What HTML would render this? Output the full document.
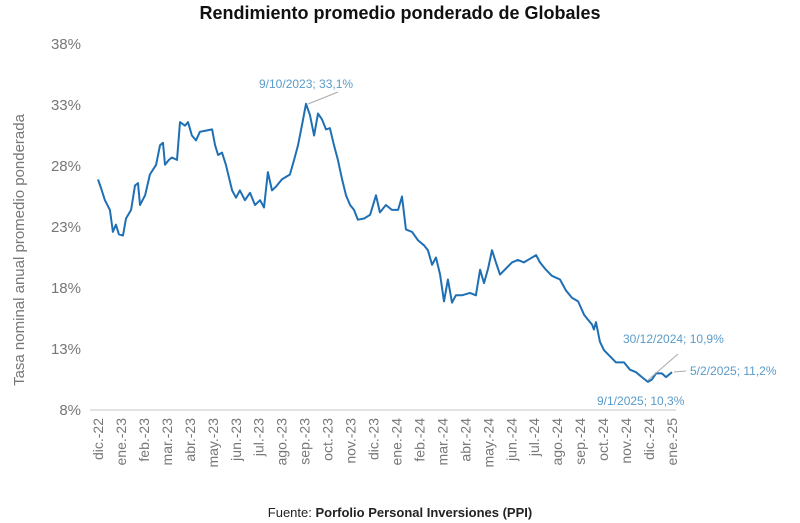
<!DOCTYPE html>
<html><head><meta charset="utf-8"><style>
body{margin:0;background:#fff;font-family:"Liberation Sans",sans-serif;}
svg{display:block}
</style></head><body>
<svg width="800" height="523" viewBox="0 0 800 523" id="chart">
<text x="400" y="19" text-anchor="middle" font-size="18" font-weight="bold" fill="#111">Rendimiento promedio ponderado de Globales</text>
<text transform="translate(24,250) rotate(-90)" text-anchor="middle" font-size="15" fill="#777">Tasa nominal anual promedio ponderada</text>
<line x1="90" y1="410" x2="676" y2="410" stroke="#d9d9d9" stroke-width="1.5"/>
<g id="yt"></g><g id="xt"></g><g id="ln"></g>
<g font-size="12" fill="#5a9bc9">
<line x1="308" y1="104" x2="338" y2="92" stroke="#aaa" stroke-width="1"/>
<text x="259" y="88" fill="#5a9bc9">9/10/2023; 33,1%</text>
<line x1="648" y1="380" x2="678" y2="354" stroke="#aaa" stroke-width="1"/>
<text x="623" y="343" fill="#5a9bc9">30/12/2024; 10,9%</text>
<line x1="674" y1="372" x2="686" y2="371" stroke="#aaa" stroke-width="1"/>
<text x="690" y="375" fill="#5a9bc9">5/2/2025; 11,2%</text>
<text x="597" y="405" fill="#5a9bc9">9/1/2025; 10,3%</text>
</g>
<text x="400" y="517" text-anchor="middle" font-size="13" fill="#222">Fuente: <tspan font-weight="bold">Porfolio Personal Inversiones (PPI)</tspan></text>
</svg>
<script>
const yTicks=[8,13,18,23,28,33,38];
const monthLabels=["dic.-22","ene.-23","feb.-23","mar.-23","abr.-23","may.-23","jun.-23","jul.-23","ago.-23","sep.-23","oct.-23","nov.-23","dic.-23","ene.-24","feb.-24","mar.-24","abr.-24","may.-24","jun.-24","jul.-24","ago.-24","sep.-24","oct.-24","nov.-24","dic.-24","ene.-25"];
const months=[0,0.13,0.30,0.52,0.65,0.78,0.91,1.09,1.22,1.44,1.61,1.74,1.83,2.05,2.26,2.53,2.70,2.83,2.92,3.09,3.22,3.44,3.57,3.79,3.92,4.09,4.27,4.44,4.70,4.97,5.10,5.23,5.40,5.57,5.84,6.01,6.18,6.40,6.62,6.84,7.06,7.23,7.40,7.58,7.75,8.01,8.36,8.54,8.71,8.89,9.06,9.23,9.41,9.58,9.76,9.93,10.10,10.28,10.45,10.63,10.80,10.98,11.15,11.32,11.59,11.85,12.11,12.28,12.54,12.80,13.07,13.24,13.41,13.68,13.94,14.20,14.37,14.55,14.72,14.90,15.07,15.24,15.42,15.59,15.85,16.20,16.46,16.64,16.81,16.99,17.16,17.33,17.51,17.77,18.03,18.29,18.55,18.82,19.08,19.25,19.51,19.77,20.12,20.38,20.64,20.91,21.17,21.34,21.52,21.60,21.69,21.86,22.04,22.30,22.56,22.91,23.17,23.43,23.69,23.95,24.13,24.30,24.56,24.74,25.00];
const rates=[26.9,26.2,25.2,24.4,22.6,23.2,22.4,22.3,23.7,24.4,26.4,26.6,24.8,25.6,27.3,28.1,29.7,29.9,28.1,28.5,28.7,28.5,31.6,31.3,31.6,30.5,30.1,30.8,30.9,31.0,29.7,28.9,29.1,28.1,26.0,25.4,26.0,25.2,25.8,24.8,25.2,24.6,27.5,26.0,26.3,26.9,27.3,28.5,29.7,31.4,33.1,32.2,30.5,32.3,31.8,31.0,31.1,29.7,28.5,26.9,25.6,24.8,24.4,23.6,23.7,24.0,25.6,24.2,24.8,24.4,24.4,25.5,22.8,22.6,21.9,21.5,21.1,19.9,20.5,19.1,16.9,18.7,16.8,17.4,17.4,17.6,17.4,19.5,18.4,19.6,21.1,20.1,19.1,19.6,20.1,20.3,20.1,20.4,20.7,20.1,19.5,19.0,18.7,17.8,17.2,16.9,15.8,15.4,15.0,14.6,15.2,13.6,12.9,12.4,11.9,11.9,11.3,11.1,10.7,10.3,10.5,11.0,11.0,10.7,11.1];
const NS="http://www.w3.org/2000/svg";
const x=t=>98+t*22.96;
const y=v=>410-(v-8)*12.2;
const yt=document.getElementById('yt'),xt=document.getElementById('xt'),ln=document.getElementById('ln');
yTicks.forEach(v=>{
  const t=document.createElementNS(NS,'text');
  t.setAttribute('x',81);t.setAttribute('y',y(v)+5);
  t.setAttribute('text-anchor','end');t.setAttribute('font-size','15');t.setAttribute('fill','#777');
  t.textContent=v+'%';
  
  
  yt.appendChild(t);
});
monthLabels.forEach((m,i)=>{
  const t=document.createElementNS(NS,'text');
  const px=x(i)+5;
  t.setAttribute('transform','translate('+px+',418) rotate(-90)');
  t.setAttribute('text-anchor','end');t.setAttribute('font-size','14');t.setAttribute('fill','#777');
  t.textContent=m;
  
  
  xt.appendChild(t);
});
const p=document.createElementNS(NS,'path');
p.setAttribute('d',months.map((t,i)=>(i?'L':'M')+x(t).toFixed(1)+' '+y(rates[i]).toFixed(1)).join(' '));
p.setAttribute('fill','none');p.setAttribute('stroke','#1f6fb5');p.setAttribute('stroke-width','2');p.setAttribute('stroke-linejoin','round');


ln.appendChild(p);
</script>
</body></html>
